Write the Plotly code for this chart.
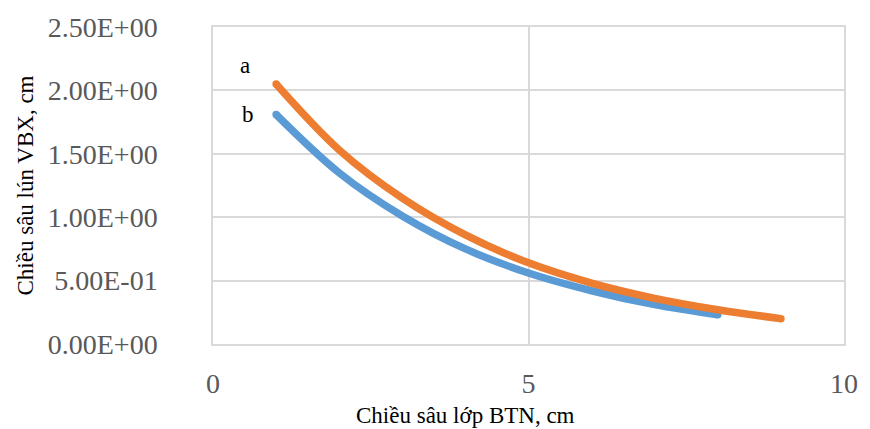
import plotly.graph_objects as go

# Settlement depth (cm) versus asphalt layer depth (cm)
depth_a = [1, 2, 3, 4, 5, 6, 7, 8, 9]
settle_a = [2.05, 1.53, 1.15, 0.86, 0.64, 0.48, 0.36, 0.27, 0.20]

depth_b = [1, 2, 3, 4, 5, 6, 7, 8]
settle_b = [1.81, 1.35, 1.01, 0.75, 0.56, 0.42, 0.31, 0.23]

x_ticks = [0, 5, 10]
y_ticks = [0.0, 0.5, 1.0, 1.5, 2.0, 2.5]
y_tick_text = ["0.00E+00", "5.00E-01", "1.00E+00", "1.50E+00", "2.00E+00", "2.50E+00"]

ORANGE = "#ED7D31"
BLUE = "#5B9BD5"
GRID = "#d9d9d9"
SERIF = "Liberation Serif, Times New Roman, serif"
LW = 7.5

fig = go.Figure()
for xs, ys, col in [(depth_b, settle_b, BLUE), (depth_a, settle_a, ORANGE)]:
    fig.add_trace(go.Scatter(x=xs, y=ys, mode="lines",
                             line=dict(color=col, width=LW, shape="spline", smoothing=1.0),
                             hoverinfo="skip", showlegend=False))
    # round end caps
    fig.add_trace(go.Scatter(x=[xs[0], xs[-1]], y=[ys[0], ys[-1]], mode="markers",
                             marker=dict(color=col, size=LW, line=dict(width=0)),
                             hoverinfo="skip", showlegend=False))

fig.add_annotation(x=0.5, y=2.2, text="a", showarrow=False,
                   font=dict(family=SERIF, size=23, color="#000000"))
fig.add_annotation(x=0.55, y=1.81, text="b", showarrow=False,
                   font=dict(family=SERIF, size=23, color="#000000"))

# x-axis title, placed slightly left of the axis centre
fig.add_annotation(xref="paper", yref="paper", x=0.40, y=-0.225,
                   xanchor="center", yanchor="middle", showarrow=False,
                   text="Chiều sâu lớp BTN, cm",
                   font=dict(family=SERIF, size=23, color="#000000"))

fig.update_layout(
    width=870, height=429,
    margin=dict(l=213, r=22, t=26, b=85),
    paper_bgcolor="white", plot_bgcolor="white",
    font=dict(family=SERIF),
)
fig.update_xaxes(
    range=[0, 10], tickvals=x_ticks, ticks="",
    showgrid=True, gridcolor=GRID, gridwidth=1.5,
    showline=True, linecolor=GRID, linewidth=1.5, mirror=True,
    zeroline=False,
    tickfont=dict(family=SERIF, size=28, color="#595959"),
    ticklabelstandoff=14,
)
fig.update_yaxes(
    range=[0, 2.5], tickvals=y_ticks, ticktext=y_tick_text, ticks="",
    showgrid=True, gridcolor=GRID, gridwidth=1.5,
    showline=True, linecolor=GRID, linewidth=1.5, mirror=True,
    zeroline=False,
    tickfont=dict(family=SERIF, size=28, color="#595959"),
    ticklabelstandoff=48,
    title=dict(text="Chiều sâu lún VBX, cm", standoff=8,
               font=dict(family=SERIF, size=23, color="#000000")),
)

fig.write_html("out.html")
